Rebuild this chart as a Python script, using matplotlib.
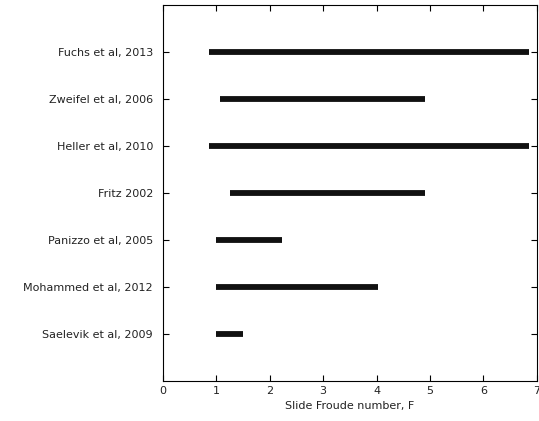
import matplotlib
matplotlib.use("Agg")
import matplotlib.pyplot as plt

# studies, from top to bottom
studies = ["Fuchs et al, 2013", "Zweifel et al, 2006", "Heller et al, 2010", "Fritz 2002",
           "Panizzo et al, 2005", "Mohammed et al, 2012", "Saelevik et al, 2009"]
f_min = [0.86, 1.08, 0.86, 1.25, 1.0, 1.0, 1.0]
f_max = [6.85, 4.9, 6.85, 4.9, 2.24, 4.03, 1.51]

plt.rcParams['font.family'] = ['DejaVu Sans']

fig = plt.figure(figsize=(5.39, 4.21), dpi=100)
ax = fig.add_axes([0.302, 0.095, 0.694, 0.893])

y = list(range(len(studies), 0, -1))
ax.hlines(y, f_min, f_max, colors='#111111', linewidth=4.2)

ax.set_xlim(0, 7)
ax.set_ylim(0, len(studies) + 1)
ax.set_yticks(y)
ax.set_yticklabels(studies)
ax.set_xticks(range(0, 8))
ax.tick_params(direction='in', top=True, right=True, length=4, width=0.8,
               labelsize=8, labelcolor='#222222')
ax.tick_params(axis='y', pad=7)
ax.set_xlabel("Slide Froude number, F", fontsize=8, labelpad=4, color='#222222')
for s in ax.spines.values():
    s.set_linewidth(0.8)

fig.savefig("out.png", dpi=100)
